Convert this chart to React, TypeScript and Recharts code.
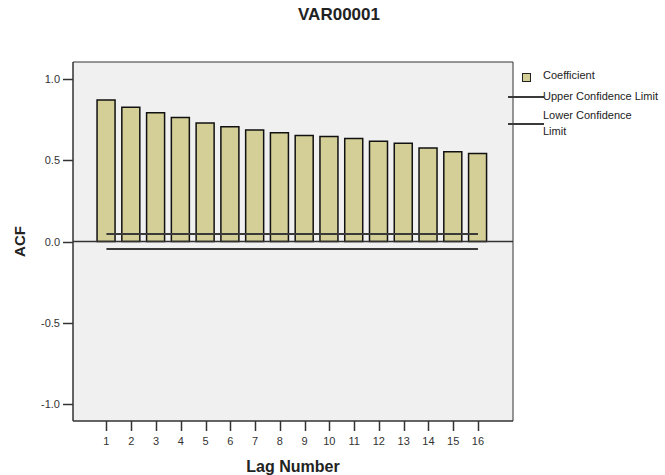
import { ComposedChart, Bar, Line, XAxis, YAxis, CartesianGrid, ReferenceLine, ReferenceArea } from 'recharts';

const FONT = '"Liberation Sans", Arial, sans-serif';

// autocorrelation function of VAR00001, lags 1..16
const lags = [1, 2, 3, 4, 5, 6, 7, 8, 9, 10, 11, 12, 13, 14, 15, 16];
const coefficients = [0.871, 0.827, 0.792, 0.764, 0.73, 0.707, 0.686, 0.669, 0.652, 0.646, 0.634, 0.617, 0.605, 0.576, 0.552, 0.541];
const upperLimits = [0.046, 0.046, 0.046, 0.046, 0.046, 0.046, 0.046, 0.046, 0.046, 0.046, 0.046, 0.046, 0.046, 0.046, 0.046, 0.046];
const lowerLimits = [-0.046, -0.046, -0.046, -0.046, -0.046, -0.046, -0.046, -0.046, -0.046, -0.046, -0.046, -0.046, -0.046, -0.046, -0.046, -0.046];
const yTicks = [-1.0, -0.5, 0.0, 0.5, 1.0];

const X_DOMAIN: [number, number] = [-0.35, 17.415];
const Y_DOMAIN: [number, number] = [-1.105, 1.105];

const data = lags.map((lag, i) => ({
  lag,
  acf: coefficients[i],
  upper: upperLimits[i],
  lower: lowerLimits[i],
}));

const BAR_FILL = '#d4cf97';
const LIMIT_STROKE = '#3a3a3a';
const AXIS_STROKE = '#333';
const TICK_LEN = 10;

// tick mark + label drawn together
const YTick = (props: any) => {
  const { x, y, payload } = props;
  const yy = Math.round(y) + 0.5;
  return (
    <g>
      <line x1={x + 3} x2={x + 3 + TICK_LEN} y1={yy} y2={yy} stroke={AXIS_STROKE} strokeWidth={1.5} />
      <text x={x} y={y} textAnchor="end" dominantBaseline="central" fontSize={11} fill="#333" fontFamily={FONT}>
        {Number(payload.value).toFixed(1)}
      </text>
    </g>
  );
};

const XTick = (props: any) => {
  const { x, y, payload } = props;
  const top = y - 3 - TICK_LEN;
  const xx = Math.round(x) + 0.5;
  return (
    <g>
      <line x1={xx} x2={xx} y1={top} y2={top + TICK_LEN} stroke={AXIS_STROKE} strokeWidth={1.5} />
      <text x={x} y={top + 24} textAnchor="middle" fontSize={11} fill="#333" fontFamily={FONT}>
        {payload.value}
      </text>
    </g>
  );
};

const YTitle = (props: any) => {
  const { x, y, height } = props.viewBox;
  const cx = x + 19;
  const cy = y + height / 2;
  return (
    <text
      x={cx}
      y={cy}
      transform={`rotate(-90, ${cx}, ${cy})`}
      textAnchor="middle"
      dominantBaseline="central"
      style={{ fontSize: 15, fontWeight: 'bold', fontFamily: FONT, fill: '#222' }}
    >
      ACF
    </text>
  );
};

const legendText = { position: 'absolute' as const, fontSize: 11, color: '#222', fontFamily: FONT, whiteSpace: 'nowrap' as const };

export default function App() {
  return (
    <div style={{ position: 'absolute', left: 0, top: 0, width: 665, height: 475, background: '#fff', overflow: 'hidden' }}>
      <div
        style={{
          position: 'absolute',
          left: 0,
          width: 678,
          top: 5,
          textAlign: 'center',
          fontSize: 17,
          fontWeight: 'bold',
          fontFamily: FONT,
          color: '#222',
        }}
      >
        VAR00001
      </div>

      <ComposedChart
        width={665}
        height={475}
        data={data}
        margin={{ top: 62, right: 152, bottom: 0, left: 0 }}
        style={{ position: 'absolute', left: 0, top: 0 }}
      >
        <CartesianGrid horizontal={false} vertical={false} fill="#f0f0f0" />
        <XAxis
          dataKey="lag"
          type="number"
          domain={X_DOMAIN}
          ticks={lags}
          height={54}
          stroke={AXIS_STROKE}
          tickSize={TICK_LEN}
          tickMargin={3}
          tickLine={false}
          tick={XTick}
          label={{
            value: 'Lag Number',
            position: 'insideBottom',
            offset: 3,
            style: { fontSize: 16, fontWeight: 'bold', fontFamily: FONT, fill: '#222' },
          }}
        />
        <YAxis
          domain={Y_DOMAIN}
          ticks={yTicks}
          width={73}
          stroke={AXIS_STROKE}
          tickSize={TICK_LEN}
          tickMargin={3}
          tickLine={false}
          tick={YTick}
          label={YTitle}
        />
        <Bar dataKey="acf" fill={BAR_FILL} stroke="#111" strokeWidth={1.5} barSize={18} isAnimationActive={false} />
        <ReferenceLine y={0} stroke="#333" strokeWidth={1.5} />
        <Line dataKey="upper" type="linear" stroke={LIMIT_STROKE} strokeWidth={2} dot={false} activeDot={false} isAnimationActive={false} />
        <Line dataKey="lower" type="linear" stroke={LIMIT_STROKE} strokeWidth={2} dot={false} activeDot={false} isAnimationActive={false} />
        {/* plot frame */}
        <ReferenceArea
          x1={X_DOMAIN[0]}
          x2={X_DOMAIN[1]}
          y1={Y_DOMAIN[0]}
          y2={Y_DOMAIN[1]}
          fill="none"
          stroke={AXIS_STROKE}
          strokeWidth={1}
          ifOverflow="visible"
        />
      </ComposedChart>

      {/* legend */}
      <div style={{ position: 'absolute', left: 522, top: 73, width: 7, height: 7, background: BAR_FILL, border: '1px solid #222' }} />
      <div style={{ ...legendText, left: 543, top: 69 }}>Coefficient</div>
      <div style={{ position: 'absolute', left: 508, top: 96, width: 36, height: 1.5, background: LIMIT_STROKE }} />
      <div style={{ ...legendText, left: 543, top: 90 }}>Upper Confidence Limit</div>
      <div style={{ position: 'absolute', left: 508, top: 123, width: 36, height: 1.5, background: LIMIT_STROKE }} />
      <div style={{ ...legendText, left: 543, top: 109 }}>Lower Confidence</div>
      <div style={{ ...legendText, left: 543, top: 125 }}>Limit</div>
    </div>
  );
}
